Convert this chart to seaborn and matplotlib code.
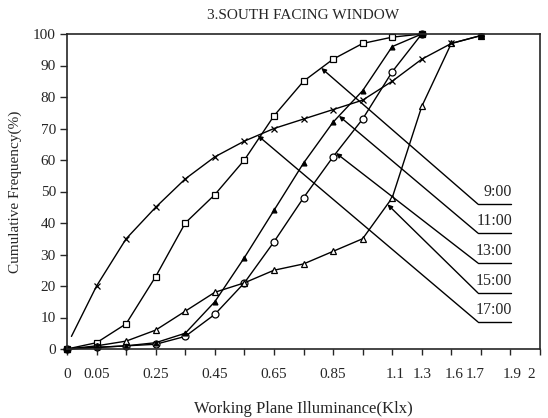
import numpy as np
import matplotlib
matplotlib.use("Agg")
from matplotlib import pyplot as plt
import seaborn as sns

# Cumulative frequency of working plane illuminance, south facing window
idx = list(range(13))
sq_vals = [0, 2, 8, 23, 40, 49, 60, 74, 85, 92, 97, 99, 100]           # 9:00
dash_vals = [0, 0.5, 1, 2, 5, 15, 29, 44, 59, 72, 82, 96, 100]         # 11:00
circ_vals = [0, 0.5, 1, 1.5, 4, 11, 21, 34, 48, 61, 73, 88, 100]       # 13:00
tri_idx = list(range(15))
tri_vals = [0, 1, 2.5, 6, 12, 18, 21, 25, 27, 31, 35, 48, 77, 97, 99.5]  # 15:00
x_idx = [0.15] + list(range(1, 15))
x_vals = [4, 20, 35, 45, 54, 61, 66, 70, 73, 76, 79, 85, 92, 97, 99.5]  # 17:00

tick_labels = ["0", "0.05", "0.25", "0.45", "0.65", "0.85", "1.1", "1.3",
               "1.6", "1.7", "1.9", "2"]
tick_label_pos = [0, 1, 3, 5, 7, 9, 11.1, 12, 13.1, 13.8, 15.05, 15.7]

times = ["9:00", "11:00", "13:00", "15:00", "17:00"]
label_levels = [46, 36.8, 27.3, 17.8, 8.6]
arrow_at = [8.6, 9.2, 9.1, 10.84, 6.45]

sns.set_style("ticks")
plt.rcParams['font.family'] = ['Liberation Serif', 'DejaVu Serif']

fig = plt.figure(figsize=(5.48, 4.18), dpi=100)
ax = fig.add_axes([67 / 548, 1 - 349 / 418, 473 / 548, 315 / 418])

lw = 1.0
kw = dict(color='black', linewidth=lw, estimator=None, sort=False, ax=ax,
          markersize=5, markerfacecolor='white', markeredgecolor='black',
          markeredgewidth=0.9, clip_on=False, legend=False)
sns.lineplot(x=idx, y=sq_vals, marker='s', **kw)
sns.lineplot(x=idx, y=circ_vals, marker='o', **kw)
sns.lineplot(x=tri_idx, y=tri_vals, marker='^', **kw)
kw2 = dict(kw)
kw2.update(markerfacecolor='black', markersize=3.5)
sns.lineplot(x=idx, y=dash_vals, marker='^', **kw2)
kw3 = dict(kw)
kw3.update(markersize=5, markevery=list(range(1, len(x_vals))))
sns.lineplot(x=x_idx, y=x_vals, marker='x', **kw3)

# filled dots at origin and where series reach 100
ends_x = [idx[0], idx[-1], tri_idx[-1]]
ends_y = [sq_vals[0], sq_vals[-1], tri_vals[-1]]
ax.plot(ends_x, ends_y, 'o', color='black', markersize=4, clip_on=False)

# leader lines with time labels
series = [(idx, sq_vals), (idx, dash_vals), (idx, circ_vals),
          (tri_idx, tri_vals), (x_idx, x_vals)]
x0, x1 = 13.9, 15.03
for t, lev, xa, (sx, sy) in zip(times, label_levels, arrow_at, series):
    tip = (xa, float(np.interp(xa, sx, sy)))
    ax.annotate('', xy=tip, xytext=(x0, lev),
                arrowprops=dict(arrowstyle='-|>', mutation_scale=7, lw=1.0,
                                color='black', shrinkA=0, shrinkB=0))
    ax.plot([x0, x1], [lev, lev], color='black', lw=1.0)
    ax.text(x1 + 0.02, lev + 1.2, t, ha='right', va='bottom', fontsize=11.5)

ax.set_xlim(0, 16)
ax.set_ylim(0, 100)
ax.xaxis.remove_overlapping_locs = False
ax.set_xticks(range(17))
ax.set_xticklabels([])
ax.set_xticks(tick_label_pos, minor=True)
ax.set_xticklabels(tick_labels, minor=True)
ax.tick_params(axis='x', which='minor', length=0, pad=14, labelsize=11)
ax.tick_params(axis='x', which='major', direction='out', length=4, width=1)
ax.set_yticks(range(0, 101, 10))
ax.tick_params(axis='y', direction='out', length=5, width=1, pad=3, labelsize=11)
for s in ax.spines.values():
    s.set_linewidth(1.2)
    s.set_visible(True)

ax.set_title("3.SOUTH FACING WINDOW", fontsize=11, pad=11)
ax.set_xlabel("Working Plane Illuminance(Klx)", fontsize=12, labelpad=14)
ax.set_ylabel("Cumulative Frequency(%)", fontsize=11, labelpad=8)

fig.savefig("out.png", dpi=100)
